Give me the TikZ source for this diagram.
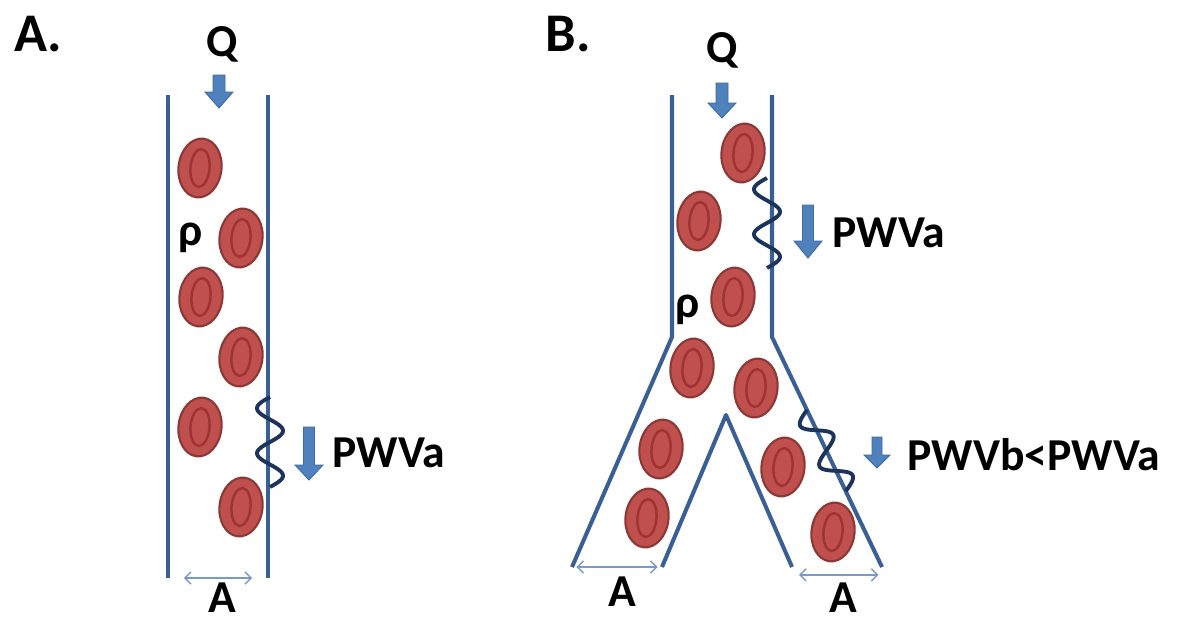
\documentclass[tikz,border=0pt]{standalone}
\usepackage{fontspec}
\setmainfont{Carlito}
\usetikzlibrary{arrows.meta}

\definecolor{wallblue}{RGB}{58,95,148}
\definecolor{cellred}{RGB}{192,80,77}
\definecolor{cellrim}{RGB}{140,56,54}
\definecolor{ringred}{RGB}{158,52,50}
\definecolor{flowblue}{RGB}{79,129,189}
\definecolor{flowedge}{RGB}{62,104,160}
\definecolor{wavenavy}{RGB}{28,52,92}
\definecolor{spanblue}{RGB}{125,152,196}

% block arrow: x, top, tip, shaft half width, head half width, head length
\newcommand\flowarrow[6]{%
  \filldraw[flow] ({#1-#4},#2) -- ({#1+#4},#2) -- ({#1+#4},{#3-#6}) -- ({#1+#5},{#3-#6})
    -- (#1,#3) -- ({#1-#5},{#3-#6}) -- ({#1-#4},{#3-#6}) -- cycle;}
% pulse wave along a wall: start x, start y, unit direction x, unit direction y
\newcommand\ripple[4]{%
  \draw[wave] plot[domain=0:90,samples=90,smooth]
    ({#1+#3*\x-13*sin(8*\x)*#4},{#2+#4*\x+13*sin(8*\x)*#3});}

\begin{document}
\begin{tikzpicture}[x=0.02cm,y=-0.02cm,
  wall/.style={wallblue,line width=2.3pt,line join=round},
  flow/.style={fill=flowblue,draw=flowedge,line width=0.5pt},
  wave/.style={wavenavy,line width=2.2pt},
  span/.style={spanblue,line width=0.8pt,{Straight Barb[length=3.5pt,width=7pt]}-{Straight Barb[length=3.5pt,width=7pt]}},
  lbl/.style={font=\fontsize{26}{30}\selectfont\bfseries,inner sep=0pt},
  big/.style={font=\fontsize{31}{36}\selectfont\bfseries,inner sep=0pt},
  pics/rbc/.style={code={
    \draw[cellrim,fill=cellred,line width=1.2pt,rotate=-7] (0,0) ellipse [x radius=21.5,y radius=29.5];
    \draw[ringred,line width=1.4pt,rotate=-5] (0,0) ellipse [x radius=9.5,y radius=19];
  }},
]
  \useasboundingbox (0,0) rectangle (1181,622);

  %% straight vessel
  \node[big] (tA) at (38,34) {A.};
  \node[lbl] (qA) at (222,44) {Q};
  \coordinate (aTL) at (168,95);
  \coordinate (aBL) at (168,578);
  \coordinate (aTR) at (268,95);
  \coordinate (aBR) at (268,578);
  \draw[wall] (aTL) -- (aBL);
  \draw[wall] (aTR) -- (aBR);
  \flowarrow{219}{75}{108}{6}{14}{16}

  \foreach \cx/\cy in {200/168,241/238,201/297,241/357,200/427,241/507}
    \pic at (\cx,\cy) {rbc};

  \node[lbl] (rhoA) at (191,238) {ρ};
  \ripple{270}{397}{0}{1}
  \flowarrow{309}{427}{480}{5.5}{14}{15}
  \node[lbl,anchor=west] (pwvA) at (332,453) {PWVa};

  \draw[span,shorten <=9pt,shorten >=9pt] (aBL) -- (aBR);
  \node[lbl] (wA) at (222,598) {A};

  %% bifurcation
  \node[big] (tB) at (568,34) {B.};
  \node[lbl] (qB) at (722,50) {Q};
  \coordinate (bTL) at (672,95);
  \coordinate (bKL) at (672,337);
  \coordinate (bBL) at (572,567);
  \coordinate (bTR) at (772,95);
  \coordinate (bKR) at (772,337);
  \coordinate (bBR) at (882,567);
  \coordinate (cL) at (662,567);
  \coordinate (cT) at (726,415);
  \coordinate (cR) at (792,567);
  \draw[wall] (bTL) -- (bKL) -- (bBL);
  \draw[wall] (bTR) -- (bKR) -- (bBR);
  \draw[wall] (cL) -- (cT) -- (cR);
  \flowarrow{722}{83}{118}{6}{14}{15}

  \foreach \cx/\cy in {743/153,699/221,733/297,692/368,756/388,661/449,783/467,647/518,833/532}
    \pic at (\cx,\cy) {rbc};

  \node[lbl] (rhoB) at (688,310) {ρ};
  \ripple{767}{178}{0}{1}
  \flowarrow{808}{205}{258}{5.5}{14}{17}
  \node[lbl,anchor=west] (pwvB) at (832,233) {PWVa};

  \ripple{807}{410}{0.431}{0.902}
  \flowarrow{877}{437}{468}{5}{13}{13}
  \node[lbl,anchor=west] (pwvC) at (907,455) {PWVb<PWVa};

  \draw[span,shorten <=2.5pt,shorten >=2.5pt] (bBL) -- (cL);
  \draw[span,shorten <=4pt,shorten >=2pt] ([yshift=-4.5pt]cR) -- ([yshift=-4.5pt]bBR);
  \node[lbl] (wB) at (622,592) {A};
  \node[lbl] (wC) at (843,598) {A};
\end{tikzpicture}
\end{document}
